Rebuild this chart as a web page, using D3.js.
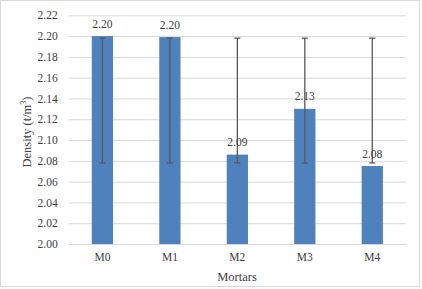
<!DOCTYPE html>
<html><head><meta charset="utf-8">
<script src="https://cdn.jsdelivr.net/npm/d3@7"></script>
<style>body{margin:0;background:#fff}svg{display:block}svg text{font-family:"Liberation Serif","Times New Roman",Tinos,serif}</style>
</head><body>
<script>
const categories = ["M0","M1","M2","M3","M4"];
const values = [2.200, 2.199, 2.086, 2.130, 2.075];
const labels = ["2.20","2.20","2.09","2.13","2.08"];
const errLow = [2.078, 2.078, 2.078, 2.078, 2.078];
const errHigh = [2.198, 2.198, 2.198, 2.198, 2.198];
const yTicks = [2.00,2.02,2.04,2.06,2.08,2.10,2.12,2.14,2.16,2.18,2.20,2.22];

const W=422,H=289;
const m={l:68.7,r:406,t:15.3,b:244};
const svg=d3.select("body").append("svg").attr("width",W).attr("height",H);
svg.append("rect").attr("x",0.5).attr("y",0.5).attr("width",419).attr("height",286)
  .attr("fill","#fff").attr("stroke","#d9d9d9");

const x=d3.scaleBand().domain(categories).range([m.l,m.r]).paddingInner(0.685).paddingOuter(0.3425);
const y=d3.scaleLinear().domain([2.00,2.22]).range([m.b,m.t]);

const gy=svg.append("g").attr("transform",`translate(${m.l},0)`)
  .call(d3.axisLeft(y).tickValues(yTicks).tickFormat(d3.format(".2f")).tickSize(-(m.r-m.l)).tickPadding(11));
gy.attr("font-family",null);
gy.select(".domain").remove();
gy.selectAll(".tick line").attr("stroke","#d9d9d9").attr("stroke-width",1);
gy.selectAll(".tick text").attr("font-size","11.5px").attr("fill","#404040");

const gx=svg.append("g").attr("transform",`translate(0,${m.b})`)
  .call(d3.axisBottom(x).tickSize(0).tickPadding(9));
gx.attr("font-family",null);
gx.select(".domain").attr("stroke","#d9d9d9");
gx.selectAll(".tick text").attr("font-size","11.5px").attr("fill","#404040");

svg.append("g").selectAll("rect").data(categories).join("rect")
  .attr("x",d=>x(d)).attr("width",x.bandwidth())
  .attr("y",(d,i)=>y(values[i])).attr("height",(d,i)=>y(2.00)-y(values[i]))
  .attr("fill","#4f81bd");

const eb=svg.append("g").attr("stroke","#595959").attr("stroke-width",1.3);
categories.forEach((c,i)=>{
  const cx=x(c)+x.bandwidth()/2;
  eb.append("line").attr("x1",cx).attr("x2",cx).attr("y1",y(errLow[i])).attr("y2",y(errHigh[i]));
  eb.append("line").attr("x1",cx-3).attr("x2",cx+3).attr("y1",y(errLow[i])).attr("y2",y(errLow[i]));
  eb.append("line").attr("x1",cx-3).attr("x2",cx+3).attr("y1",y(errHigh[i])).attr("y2",y(errHigh[i]));
});

svg.append("g").selectAll("text").data(categories).join("text")
  .attr("x",d=>x(d)+x.bandwidth()/2).attr("y",(d,i)=>y(values[i])-8.5)
  .attr("text-anchor","middle").attr("font-size","11.5px").attr("fill","#404040")
  .text((d,i)=>labels[i]);

svg.append("text").attr("x",237).attr("y",281).attr("text-anchor","middle")
  .attr("font-size","12.5px").attr("fill","#404040").text("Mortars");
const yt=svg.append("text").attr("transform","translate(31,132) rotate(-90)").attr("text-anchor","middle")
  .attr("font-size","12.5px").attr("fill","#404040");
yt.append("tspan").text("Density (t/m");
yt.append("tspan").attr("font-size","8px").attr("dy","-5").text("3");
yt.append("tspan").attr("dy","5").text(")");
</script>
</body></html>
